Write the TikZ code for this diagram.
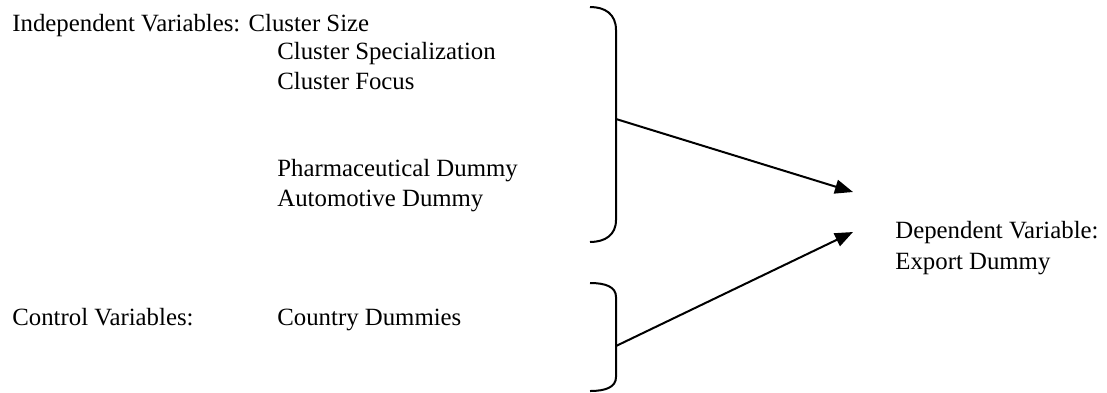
\documentclass[tikz,border=0pt]{standalone}
\usepackage{fontspec}
\setmainfont{Liberation Serif}
\usetikzlibrary{arrows.meta}

\begin{document}
\begin{tikzpicture}[
                x=0.5pt, y=-0.5pt,
                every node/.style={font=\fontsize{12.4}{15}\selectfont},
                textnode/.style={anchor=base west, inner sep=0pt},
                bracket/.style={line width=1pt},
                link/.style={-{Triangle[length=9pt, width=7pt]}, line width=1pt},
            ]
            \useasboundingbox (0,0) rectangle (1107,392);

            % Nodes
            \node[textnode]     (indep)      at (12,31)    {Independent Variables: Cluster Size};
            \node[textnode]     (spec)       at (277,59)   {Cluster Specialization};
            \node[textnode]     (focus)      at (277,89)   {Cluster Focus};
            \node[textnode]     (pharma)     at (277,176)  {Pharmaceutical Dummy};
            \node[textnode]     (auto)       at (277,206)  {Automotive Dummy};

            \node[textnode]     (control)    at (12,325)   {Control Variables:};
            \node[textnode]     (country)    at (277,325)  {Country Dummies};

            \node[textnode]     (dependent)  at (895,238)  {Dependent Variable:};
            \node[textnode]     (export)     at (895,269)  {Export Dummy};

            % Braces
            \draw[bracket] (590,7) .. controls (605,7) and (616,14) .. (616,30) -- (616,220)
                .. controls (616,235) and (605,242) .. (590,242);
            \draw[bracket] (590,283) .. controls (606,283) and (616,287) .. (616,297) -- (616,377)
                .. controls (616,387) and (606,391) .. (590,391);

            \coordinate (indep_brace)    at (616,119);
            \coordinate (control_brace)  at (616,346);
            \coordinate (dep_in_a)       at (853,192);
            \coordinate (dep_in_b)       at (853,232);

            %Lines
            \draw[link] (indep_brace) -- (dep_in_a);
            \draw[link] (control_brace) -- (dep_in_b);
        \end{tikzpicture}
\end{document}
